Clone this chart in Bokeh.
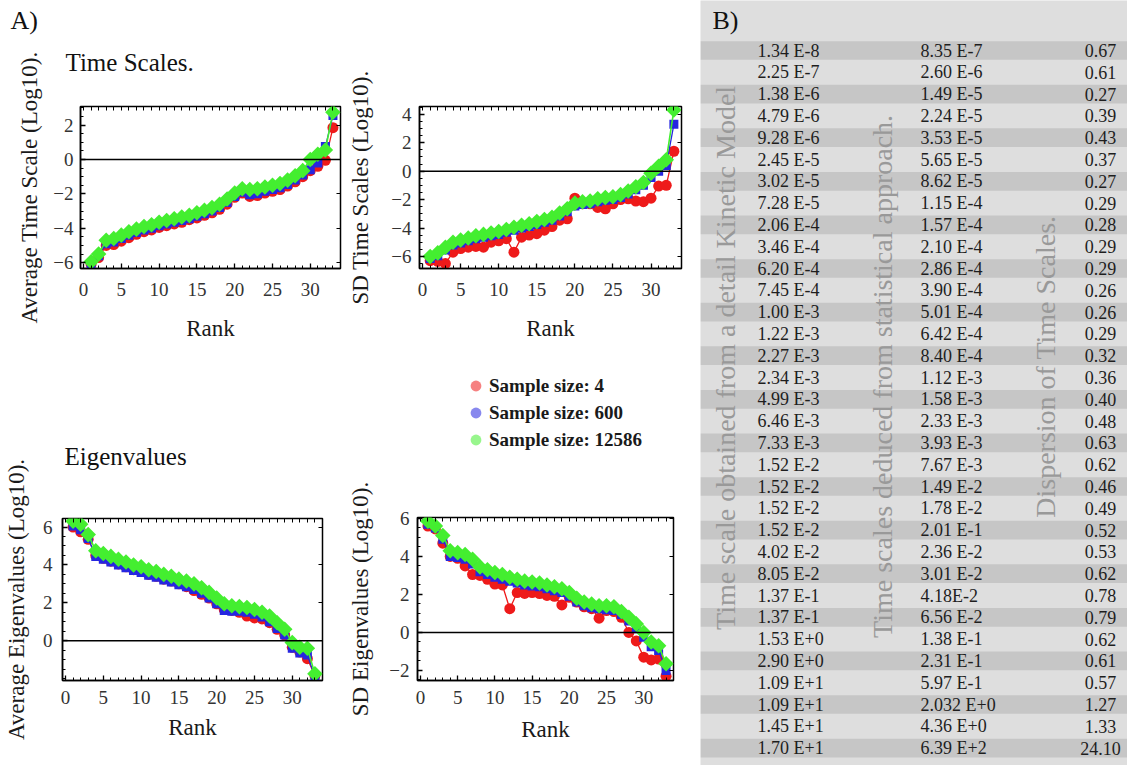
import math
from bokeh.plotting import figure
from bokeh.models import (Range1d, FixedTicker, LinearAxis, Span, Label, Legend, LegendItem,
                          ColumnDataSource, CustomJSTickFormatter, Title)
from bokeh.layouts import row, column
from bokeh.embed import file_html
from bokeh.resources import INLINE

# ---------------- data ----------------
rank = list(range(1, 34))
sample_labels = ["Sample size: 4", "Sample size: 600", "Sample size: 12586"]

avg_ts_4 = [-6.1, -5.7, -5.0, -4.95, -4.75, -4.55, -4.35, -4.2, -4.1, -3.95, -3.85, -3.75, -3.65,
            -3.5, -3.4, -3.25, -3.1, -2.9, -2.6, -2.2, -1.95, -2.15, -2.1, -1.95, -1.85, -1.75,
            -1.55, -1.3, -1.0, -0.65, -0.4, -0.05, 1.85]
avg_ts_600 = [-6.05, -5.6, -4.9, -4.8, -4.6, -4.4, -4.25, -4.1, -4.0, -3.85, -3.75, -3.65, -3.55,
              -3.45, -3.3, -3.15, -3.0, -2.8, -2.5, -2.15, -1.9, -2.05, -2.0, -1.85, -1.75, -1.65,
              -1.45, -1.2, -0.9, -0.6, -0.2, 0.75, 2.55]
avg_ts_12586 = [-5.95, -5.5, -4.7, -4.6, -4.4, -4.2, -4.05, -3.9, -3.8, -3.65, -3.55, -3.45, -3.35,
                -3.25, -3.1, -2.95, -2.8, -2.6, -2.3, -1.95, -1.7, -1.75, -1.7, -1.6, -1.5, -1.4,
                -1.2, -0.95, -0.65, -0.0, 0.3, 0.55, 2.75]

sd_ts_4 = [-6.3, -6.35, -6.5, -5.7, -5.45, -5.35, -5.3, -5.35, -5.0, -4.9, -4.75, -5.7, -4.65,
           -4.5, -4.4, -4.15, -3.9, -3.45, -3.35, -1.9, -2.3, -2.3, -2.55, -2.65, -2.3, -2.0,
           -1.95, -2.1, -2.15, -1.9, -1.05, -1.0, 1.4]
sd_ts_600 = [-6.15, -5.95, -5.55, -5.2, -5.05, -4.9, -4.75, -4.65, -4.55, -4.45, -4.3, -4.15, -4.0,
             -3.9, -3.75, -3.6, -3.45, -3.15, -2.85, -2.45, -2.35, -2.3, -2.15, -2.05, -2.0,
             -1.85, -1.6, -1.3, -1.0, -0.45, 0.0, 0.4, 3.3]
sd_ts_12586 = [-6.0, -5.75, -5.35, -5.0, -4.85, -4.7, -4.55, -4.45, -4.35, -4.25, -4.1, -3.95,
               -3.8, -3.7, -3.55, -3.4, -3.25, -2.95, -2.65, -2.25, -2.15, -2.1, -1.95, -1.85,
               -1.8, -1.65, -1.4, -1.1, -0.8, -0.15, 0.35, 0.8, 4.3]

avg_eig_4 = [6.0, 5.75, 5.35, 4.5, 4.35, 4.2, 4.05, 3.9, 3.75, 3.65, 3.5, 3.4, 3.25, 3.15, 3.0,
             2.85, 2.65, 2.45, 2.25, 1.95, 1.65, 1.6, 1.5, 1.3, 1.2, 1.15, 0.95, 0.6, 0.3, -0.35,
             -0.6, -0.95, -1.85]
avg_eig_600 = [6.05, 5.85, 5.4, 4.45, 4.3, 4.15, 4.0, 3.85, 3.7, 3.6, 3.45, 3.35, 3.2, 3.1, 2.95,
               2.85, 2.7, 2.5, 2.25, 1.95, 1.6, 1.55, 1.55, 1.5, 1.4, 1.25, 1.0, 0.65, 0.3, -0.4,
               -0.65, -0.75, -1.9]
avg_eig_12586 = [6.3, 6.15, 5.6, 4.75, 4.6, 4.45, 4.3, 4.15, 4.0, 3.9, 3.75, 3.65, 3.5, 3.4, 3.25,
                 3.15, 3.0, 2.8, 2.55, 2.25, 1.95, 1.85, 1.8, 1.75, 1.65, 1.5, 1.3, 0.95, 0.6,
                 -0.1, -0.35, -0.4, -1.75]

sd_eig_4 = [5.6, 5.45, 4.7, 4.0, 3.9, 3.5, 3.05, 3.0, 2.8, 2.55, 2.5, 1.25, 2.1, 2.05, 2.1, 2.05,
            1.95, 1.9, 1.45, 1.85, 1.6, 1.35, 1.25, 0.75, 1.15, 1.1, 0.8, 0.0, -0.45, -1.3,
            -1.45, -1.4, -2.3]
sd_eig_600 = [5.7, 5.5, 4.9, 4.0, 3.95, 3.85, 3.6, 3.2, 3.05, 2.9, 2.8, 2.7, 2.6, 2.5, 2.45, 2.4,
              2.3, 2.2, 2.1, 1.9, 1.6, 1.4, 1.3, 1.25, 1.2, 1.15, 0.95, 0.6, 0.2, -0.25, -0.75,
              -0.95, -2.0]
sd_eig_12586 = [5.85, 5.6, 5.1, 4.3, 4.2, 4.1, 3.85, 3.45, 3.3, 3.15, 3.05, 2.9, 2.8, 2.7, 2.65,
                2.6, 2.5, 2.4, 2.3, 2.1, 1.8, 1.6, 1.5, 1.4, 1.4, 1.35, 1.1, 0.8, 0.45, 0.0,
                -0.5, -0.7, -1.65]

x_ticks = [0, 5, 10, 15, 20, 25, 30]

# table (panel B)
kinetic_model = ["1.34 E-8", "2.25 E-7", "1.38 E-6", "4.79 E-6", "9.28 E-6", "2.45 E-5",
                 "3.02 E-5", "7.28 E-5", "2.06 E-4", "3.46 E-4", "6.20 E-4", "7.45 E-4",
                 "1.00 E-3", "1.22 E-3", "2.27 E-3", "2.34 E-3", "4.99 E-3", "6.46 E-3",
                 "7.33 E-3", "1.52 E-2", "1.52 E-2", "1.52 E-2", "1.52 E-2", "4.02 E-2",
                 "8.05 E-2", "1.37 E-1", "1.37 E-1", "1.53 E+0", "2.90 E+0", "1.09 E+1",
                 "1.09 E+1", "1.45 E+1", "1.70 E+1"]
statistical = ["8.35 E-7", "2.60 E-6", "1.49 E-5", "2.24 E-5", "3.53 E-5", "5.65 E-5",
               "8.62 E-5", "1.15 E-4", "1.57 E-4", "2.10 E-4", "2.86 E-4", "3.90 E-4",
               "5.01 E-4", "6.42 E-4", "8.40 E-4", "1.12 E-3", "1.58 E-3", "2.33 E-3",
               "3.93 E-3", "7.67 E-3", "1.49 E-2", "1.78 E-2", "2.01 E-1", "2.36 E-2",
               "3.01 E-2", "4.18E-2", "6.56 E-2", "1.38 E-1", "2.31 E-1", "5.97 E-1",
               "2.032 E+0", "4.36 E+0", "6.39 E+2"]
dispersion = ["0.67", "0.61", "0.27", "0.39", "0.43", "0.37", "0.27", "0.29", "0.28", "0.29",
              "0.29", "0.26", "0.26", "0.29", "0.32", "0.36", "0.40", "0.48", "0.63", "0.62",
              "0.46", "0.49", "0.52", "0.53", "0.62", "0.78", "0.79", "0.62", "0.61", "0.57",
              "1.27", "1.33", "24.10"]
table_headers = ["Time scale obtained from a detail Kinetic Model",
                 "Time scales deduced from statistical approach.",
                 "Dispersion of Time Scales."]

# ---------------- style ----------------
SERIF = "Liberation Serif"
RED, BLUE, GREEN = "#ee1a1a", "#2626e0", "#44ee30"
minus_fmt = CustomJSTickFormatter(code="return tick < 0 ? '\\u2212' + (-tick) : '' + tick;")


def style_axis(ax, ticker, show_labels):
    ax.ticker = ticker
    ax.major_tick_in = 5
    ax.major_tick_out = 0
    ax.minor_tick_in = 3
    ax.minor_tick_out = 0
    ax.major_tick_line_color = "black"
    ax.minor_tick_line_color = "black"
    ax.major_tick_line_width = 1.3
    ax.axis_line_color = "black"
    ax.axis_line_width = 1.5
    if show_labels:
        ax.formatter = minus_fmt
        ax.major_label_text_font = SERIF
        ax.major_label_text_font_size = "19px"
        ax.major_label_text_color = "#333333"
        ax.axis_label_text_font = SERIF
        ax.axis_label_text_font_size = "23px"
        ax.axis_label_text_font_style = "normal"
        ax.axis_label_text_color = "#1a1a1a"
    else:
        ax.minor_tick_in = 4
        ax.major_label_standoff = 0
        ax.axis_line_color = None


def make_panel(width, height, borders, yr, yticks, ylabel, s4, s600, s12586,
               xtick_so, xlab_so, ytick_so, ylab_so):
    left, right, top, bottom = borders
    p = figure(width=width, height=height, output_backend="svg", toolbar_location=None,
               x_range=Range1d(-0.4, 34.0), y_range=Range1d(*yr),
               min_border_left=left, min_border_right=right,
               min_border_top=top, min_border_bottom=bottom,
               background_fill_color="white", border_fill_alpha=0)
    p.outline_line_color = "black"
    p.outline_line_width = 1.5
    p.grid.visible = False
    xminor = list(range(0, 35))
    ymin, ymax = yr
    yminor = [v / 2 for v in range(int(math.floor(ymin * 2)), int(math.ceil(ymax * 2)) + 1)]

    style_axis(p.xaxis[0], FixedTicker(ticks=x_ticks, minor_ticks=xminor), True)
    p.xaxis[0].axis_label = "Rank"
    p.xaxis[0].major_label_standoff = xtick_so
    p.xaxis[0].axis_label_standoff = xlab_so
    style_axis(p.yaxis[0], FixedTicker(ticks=yticks, minor_ticks=yminor), True)
    p.yaxis[0].axis_label = ylabel
    p.yaxis[0].major_label_standoff = ytick_so
    p.yaxis[0].axis_label_standoff = ylab_so

    # tick marks only (no labels) on the top and right frame edges
    top_ax = LinearAxis()
    style_axis(top_ax, FixedTicker(ticks=[], minor_ticks=xminor), False)
    p.add_layout(top_ax, "above")
    right_ax = LinearAxis()
    style_axis(right_ax, FixedTicker(ticks=[], minor_ticks=yticks), False)
    p.add_layout(right_ax, "right")

    src = ColumnDataSource(dict(x=rank, a=s4, b=s600, c=s12586))
    p.line("x", "a", source=src, line_color=RED, line_width=1.3)
    p.scatter("x", "a", source=src, marker="circle", size=11, fill_color=RED, line_color=None)
    p.line("x", "b", source=src, line_color=BLUE, line_width=1.3)
    p.scatter("x", "b", source=src, marker="square", size=9, fill_color=BLUE, line_color=None)
    p.line("x", "c", source=src, line_color=GREEN, line_width=1.6)
    p.scatter("x", "c", source=src, marker="square", angle=math.pi / 4, size=11,
              fill_color=GREEN, line_color=None)
    p.add_layout(Span(location=0, dimension="width", line_color="black", line_width=1.5))
    return p


def text_fig(width, height, xr=None):
    p = figure(width=width, height=height, output_backend="svg", toolbar_location=None,
               x_range=xr or Range1d(0, width), y_range=Range1d(height, 0),
               x_axis_location=None, y_axis_location=None,
               min_border=0, min_border_left=0, min_border_right=0,
               min_border_top=0, min_border_bottom=0,
               background_fill_color="white", border_fill_color="white")
    p.grid.visible = False
    p.outline_line_color = None
    return p


# header strip (y 0..95) with the panel letter and the first heading;
# the top row of plots is pulled up underneath it (transparent borders)
hdr = text_fig(700, 95)
hdr.add_layout(Label(x=10, y=20, text="A)", text_font=SERIF, text_font_size="26px",
                     text_baseline="middle", text_color="#111111"))
hdr.add_layout(Label(x=65, y=62, text="Time Scales.", text_font=SERIF, text_font_size="25px",
                     text_baseline="middle", text_color="#111111"))

# top row: figures from y=0 to y=350, frames at y 106..268
p1 = make_panel(345, 350, (80, 5, 106, 82), (-6.34, 3.08), [-6, -4, -2, 0, 2],
                "Average Time Scale (Log10).", avg_ts_4, avg_ts_600, avg_ts_12586,
                14, 17, 7, 8)
p2 = make_panel(355, 350, (72, 19, 105, 82), (-6.85, 4.55), [-6, -4, -2, 0, 2, 4],
                "SD Time Scales (Log10).", sd_ts_4, sd_ts_600, sd_ts_12586,
                14, 17, 8, 15)
top_row = row(p1, p2, styles={"margin-top": "-95px"})

# bottom-left: figure from y=350, frame at y 518..680
p3 = make_panel(345, 415, (61, 23, 168, 85), (-2.1, 6.45), [0, 2, 4, 6],
                "Average Eigenvalues (Log10).", avg_eig_4, avg_eig_600, avg_eig_12586,
                10, 8, 10, 11)
p3.title = Title(text="Eigenvalues", align="left", offset=2, standoff=97, text_font=SERIF,
                 text_font_size="25px", text_font_style="normal", text_color="#111111")

# legend strip (y 350..455) above the bottom-right plot (its frame lines up with p4's)
legfig = text_fig(355, 105, xr=Range1d(100, 455))
leg_src = ColumnDataSource(dict(x=rank, a=sd_eig_4, b=sd_eig_600, c=sd_eig_12586))
swatches = [legfig.scatter("x", k, source=leg_src, marker="circle", fill_color=c,
                           fill_alpha=0.55, line_color=None)
            for k, c in (("a", RED), ("b", BLUE), ("c", GREEN))]
legend = Legend(items=[LegendItem(label=l, renderers=[r]) for l, r in zip(sample_labels, swatches)],
                location=(45, 2), padding=0, spacing=0, margin=0,
                glyph_width=27, glyph_height=27, label_height=27, label_standoff=0,
                label_text_font=SERIF, label_text_font_size="19px",
                label_text_font_style="bold", label_text_color="#1a1a1a",
                border_line_color=None, background_fill_alpha=0)
legfig.add_layout(legend)

# bottom-right: figure from y=455, frame at y 517..680
p4 = make_panel(355, 310, (71, 27, 62, 85), (-2.53, 6.05), [-2, 0, 2, 4, 6],
                "SD Eigenvalues (Log10).", sd_eig_4, sd_eig_600, sd_eig_12586,
                10, 10, 8, 13)

# ---------------- panel B : table ----------------
n_rows = len(kinetic_model)
row_px = 21.8
first_row_y = 50
tbl_h = 765
tbl_w = 427
tbl = figure(width=tbl_w, height=tbl_h, output_backend="svg", toolbar_location=None,
             x_range=Range1d(0, tbl_w),
             y_range=Range1d((tbl_h - first_row_y) / row_px, -first_row_y / row_px),
             x_axis_location=None, y_axis_location=None,
             min_border=0, min_border_left=0, min_border_right=0,
             min_border_top=0, min_border_bottom=0,
             background_fill_color="#dedede", border_fill_color="#dedede")
tbl.grid.visible = False
tbl.outline_line_color = None
row_idx = list(range(n_rows))
dark_rows = [i for i in row_idx if i % 2 == 0]
tbl.hbar(y=dark_rows, left=0, right=tbl_w, height=0.86, fill_color="#c6c6c6", line_color=None)

for txt, xc, yc in zip(table_headers, [25, 182, 345], [14.1, 14.95, 14.5]):
    tbl.add_layout(Label(x=xc, y=yc, text=txt, angle=math.pi / 2, text_font=SERIF,
                         text_font_size="28px", text_align="center", text_baseline="middle",
                         text_color="#999999"))
tbl.add_layout(Label(x=12, y=-1.38, text="B)", text_font=SERIF, text_font_size="26px",
                     text_baseline="middle", text_color="#111111"))

tsrc = ColumnDataSource(dict(row=row_idx, c1=kinetic_model, c2=statistical, c3=dispersion))
common = dict(source=tsrc, text_font={"value": SERIF}, text_font_size={"value": "18px"},
              text_baseline="middle", text_color="#1e1e1e")
tbl.text(x=57, y="row", text="c1", text_align="left", **common)
tbl.text(x=220, y="row", text="c2", text_align="left", **common)
tbl.text(x=400, y="row", text="c3", text_align="center", **common)

left_col = column(hdr, top_row, row(p3, column(legfig, p4)))
layout = row(left_col, tbl)

open("out.html", "w").write(file_html(layout, INLINE))
